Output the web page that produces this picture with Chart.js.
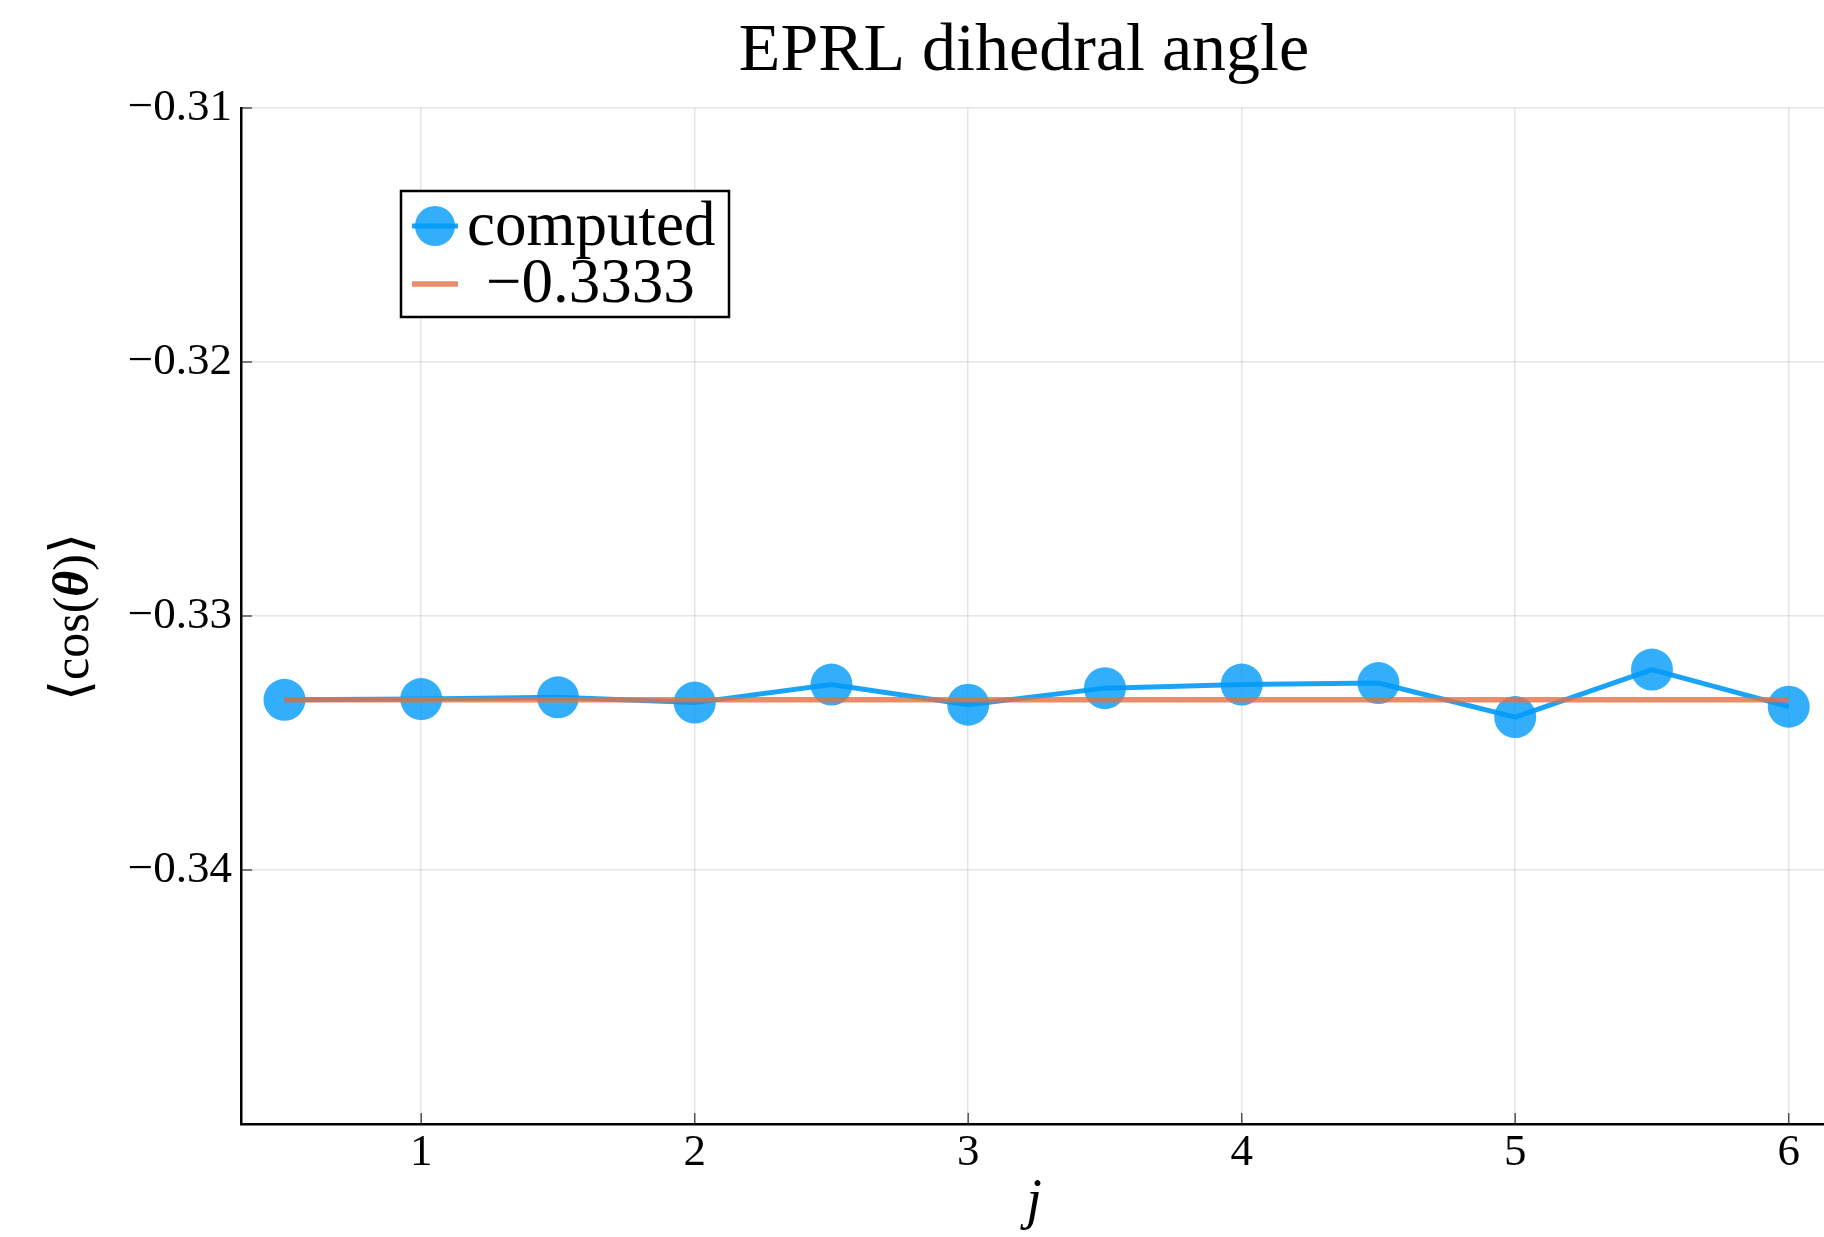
<!DOCTYPE html>
<html>
<head>
<meta charset="utf-8">
<title>EPRL dihedral angle</title>
<script src="https://cdn.jsdelivr.net/npm/chart.js@4.4.0/dist/chart.umd.min.js"></script>
<style>
    html, body { margin: 0; padding: 0; background: #fff; }
    canvas { display: block; }
</style>
</head>
<body>
<canvas id="dihedral-chart" width="1824" height="1237"></canvas>
<script>
// spins j and the computed <cos(theta)> at each one
const spins = [0.5, 1, 1.5, 2, 2.5, 3, 3.5, 4, 4.5, 5, 5.5, 6];
const computed = [-0.33330, -0.33327, -0.33320, -0.33341, -0.33270, -0.33349,
                  -0.33284, -0.33270, -0.33264, -0.33398, -0.33211, -0.33357];

// reference value, drawn over the same spin range
const refSpins = [0.5, 6];
const refValues = [-0.3333, -0.3333];

const seriesNames = ['computed', '\u22120.3333'];

const xTicks = [1, 2, 3, 4, 5, 6];
const xTickLabels = ['1', '2', '3', '4', '5', '6'];
const yTicks = [-0.31, -0.32, -0.33, -0.34];
const yTickLabels = ['\u22120.31', '\u22120.32', '\u22120.33', '\u22120.34'];

const SERIF = '"Liberation Serif", "DejaVu Serif", serif';
const BLUE_LINE = 'rgba(0, 154, 250, 0.9)';
const BLUE_MARK = 'rgba(0, 154, 250, 0.8)';
const ORANGE = 'rgba(227, 111, 71, 0.8)';

// title, legend, axis titles and the small inward ticks
const decorations = {
    id: 'decorations',
    beforeDatasetsDraw(chart) {
        const ctx = chart.ctx;
        const area = chart.chartArea;
        const xs = chart.scales.x;
        const ys = chart.scales.y;
        ctx.save();
        ctx.strokeStyle = 'rgba(0, 0, 0, 0.65)';
        ctx.lineWidth = 1.5;
        ctx.beginPath();
        xTicks.forEach(v => {
            const px = xs.getPixelForValue(v);
            ctx.moveTo(px, area.bottom);
            ctx.lineTo(px, area.bottom - 11);
        });
        yTicks.forEach(v => {
            const py = ys.getPixelForValue(v);
            ctx.moveTo(area.left, py);
            ctx.lineTo(area.left + 11, py);
        });
        ctx.stroke();
        ctx.restore();
    },
    afterDraw(chart) {
        const ctx = chart.ctx;
        const area = chart.chartArea;
        ctx.save();
        ctx.fillStyle = '#000';

        // title
        ctx.font = '68px ' + SERIF;
        ctx.textAlign = 'center';
        ctx.textBaseline = 'alphabetic';
        ctx.fillText('EPRL dihedral angle', 1024, 70);

        // x axis title
        ctx.font = 'italic 56px ' + SERIF;
        ctx.fillText('j', 1034, 1218);

        // y axis title, rotated, with italic theta
        ctx.translate(88, 617);
        ctx.rotate(-Math.PI / 2);
        const parts = [
            ['\u27E8', '54px "DejaVu Serif", serif'],
            ['cos(', '50px ' + SERIF],
            ['\u03B8', 'italic bold 50px ' + SERIF],
            [')', '50px ' + SERIF],
            ['\u27E9', '54px "DejaVu Serif", serif']
        ];
        let total = 0;
        parts.forEach(p => { ctx.font = p[1]; total += ctx.measureText(p[0]).width; });
        let cx = -total / 2;
        ctx.textAlign = 'left';
        parts.forEach(p => {
            ctx.font = p[1];
            ctx.fillText(p[0], cx, 0);
            cx += ctx.measureText(p[0]).width;
        });
        ctx.setTransform(1, 0, 0, 1, 0, 0);

        // legend box
        const lx = area.left + 160;
        const ly = area.top + 83;
        ctx.fillStyle = '#fff';
        ctx.fillRect(lx, ly, 328, 126);
        ctx.strokeStyle = '#000';
        ctx.lineWidth = 2.5;
        ctx.strokeRect(lx, ly, 328, 126);

        ctx.lineWidth = 5;
        ctx.strokeStyle = BLUE_LINE;
        ctx.beginPath();
        ctx.moveTo(lx + 11, ly + 35);
        ctx.lineTo(lx + 57, ly + 35);
        ctx.stroke();
        ctx.fillStyle = BLUE_MARK;
        ctx.beginPath();
        ctx.arc(lx + 34, ly + 35, 20, 0, Math.PI * 2);
        ctx.fill();

        ctx.lineWidth = 5.5;
        ctx.strokeStyle = ORANGE;
        ctx.beginPath();
        ctx.moveTo(lx + 11, ly + 93);
        ctx.lineTo(lx + 57, ly + 93);
        ctx.stroke();

        ctx.fillStyle = '#000';
        ctx.font = '63px ' + SERIF;
        ctx.textAlign = 'left';
        ctx.fillText(seriesNames[0], lx + 66, ly + 54);
        ctx.fillText(seriesNames[1], lx + 85, ly + 111);
        ctx.restore();
    }
};

const ctx = document.getElementById('dihedral-chart').getContext('2d');

new Chart(ctx, {
    type: 'line',
    data: {
        datasets: [{
            label: seriesNames[0],
            data: spins.map((j, i) => ({ x: j, y: computed[i] })),
            borderColor: BLUE_LINE,
            borderWidth: 5,
            backgroundColor: BLUE_MARK,
            pointBackgroundColor: BLUE_MARK,
            pointBorderWidth: 0,
            pointRadius: 21,
            tension: 0,
            order: 2
        }, {
            label: seriesNames[1],
            data: refSpins.map((j, i) => ({ x: j, y: refValues[i] })),
            borderColor: ORANGE,
            borderWidth: 5.5,
            pointRadius: 0,
            tension: 0,
            order: 1
        }]
    },
    options: {
        responsive: false,
        animation: false,
        devicePixelRatio: 1,
        layout: { autoPadding: false, padding: { top: 108, left: 0, right: 0, bottom: 0 } },
        plugins: {
            legend: { display: false },
            title: { display: false },
            tooltip: { enabled: false }
        },
        scales: {
            x: {
                type: 'linear',
                min: 0.341,
                max: 6.129,
                afterBuildTicks: s => { s.ticks = xTicks.map(v => ({ value: v })); },
                afterFit: s => { s.height = 113; s.paddingLeft = 0; s.paddingRight = 0; },
                ticks: {
                    color: '#000',
                    font: { family: SERIF, size: 45 },
                    padding: 2,
                    maxRotation: 0,
                    callback: (v, i) => xTickLabels[i]
                },
                grid: { color: 'rgba(0, 0, 0, 0.1)', lineWidth: 1.5, drawTicks: false },
                border: { display: true, color: '#000', width: 2.5 }
            },
            y: {
                type: 'linear',
                min: -0.35,
                max: -0.31,
                afterBuildTicks: s => { s.ticks = yTicks.map(v => ({ value: v })); },
                afterFit: s => { s.width = 241; s.paddingTop = 0; s.paddingBottom = 0; },
                ticks: {
                    color: '#000',
                    font: { family: SERIF, size: 45 },
                    padding: 9,
                    callback: (v, i) => yTickLabels[i]
                },
                grid: { color: 'rgba(0, 0, 0, 0.1)', lineWidth: 1.5, drawTicks: false },
                border: { display: true, color: '#000', width: 2.5 }
            }
        }
    },
    plugins: [decorations]
});
</script>
</body>
</html>
